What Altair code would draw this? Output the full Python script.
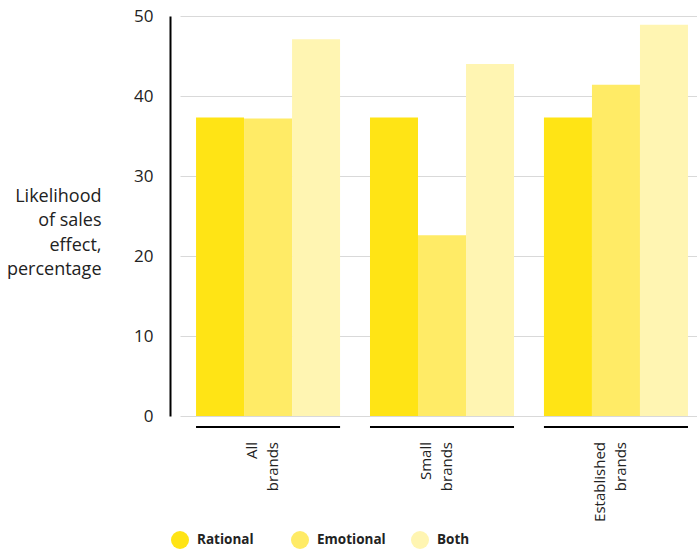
import altair as alt
import pandas as pd

groups = ["All\nbrands", "Small\nbrands", "Established\nbrands"]
series = ["Rational", "Emotional", "Both"]
rational = [37.3, 37.3, 37.3]
emotional = [37.2, 22.6, 41.4]
both = [47.1, 44.0, 48.9]
colors = ["#FFE415", "#FFEB66", "#FFF5B2"]

rows = []
for i, g in enumerate(groups):
    for s, vals in zip(series, [rational, emotional, both]):
        rows.append({"group": g, "series": s, "value": vals[i]})
df = pd.DataFrame(rows)
gdf = pd.DataFrame({"group": groups})

FONT = "Open Sans"

xscale = alt.Scale(domain=groups, paddingInner=0.172, paddingOuter=0.072, align=0.64)

bars = alt.Chart(df).mark_bar(size=48).encode(
    x=alt.X("group:N", scale=xscale, axis=None, sort=groups),
    xOffset=alt.XOffset("series:N", sort=series, scale=alt.Scale(domain=series, paddingInner=0, paddingOuter=0)),
    y=alt.Y("value:Q", scale=alt.Scale(domain=[0, 50], nice=False),
            axis=alt.Axis(values=[0, 10, 20, 30, 40, 50], offset=10, domainColor="#000000",
                          domainWidth=2, ticks=False, labelPadding=17, labelFontSize=17,
                          labelFont=FONT, labelColor="#222222", gridColor="#d9d9d9",
                          title=["Likelihood", "of sales", "effect,", "percentage"],
                          titleAngle=0, titleAlign="right", titleBaseline="middle",
                          titleFont=FONT, titleFontSize=18, titleFontWeight="normal",
                          titleColor="#222222", titleX=-69, titleY=180, titleLineHeight=24.5)),
    color=alt.Color("series:N", sort=series, scale=alt.Scale(domain=series, range=colors),
                    legend=alt.Legend(title=None, orient="none", legendX=-9, legendY=515,
                                      direction="horizontal", symbolType="circle",
                                      symbolSize=324, symbolStrokeWidth=0, labelFont=FONT,
                                      labelFontSize=13.5, labelFontWeight="bold",
                                      labelColor="#222222", labelOffset=8,
                                      columnPadding=25, gridAlign="all")),
)

lines = alt.Chart(gdf).mark_bar(color="#000000").encode(
    x=alt.X("group:N", scale=xscale, sort=groups),
    y=alt.value(410), y2=alt.value(412),
)

labels = alt.Chart(gdf).mark_text(angle=270, align="right", baseline="middle",
                                  lineBreak="\n", font=FONT, fontSize=15, color="#222222",
                                  lineHeight=21, dy=-16).encode(
    x=alt.X("group:N", scale=xscale, sort=groups),
    y=alt.value(426),
    text="group:N",
)

chart = alt.layer(bars, lines, labels).properties(
    width=517, height=400, padding={"left": 180, "top": 16, "right": 0, "bottom": 133},
    autosize="none"
).configure_view(stroke=None)

chart.save("out.html", embed_options={"renderer": "svg", "actions": False})
